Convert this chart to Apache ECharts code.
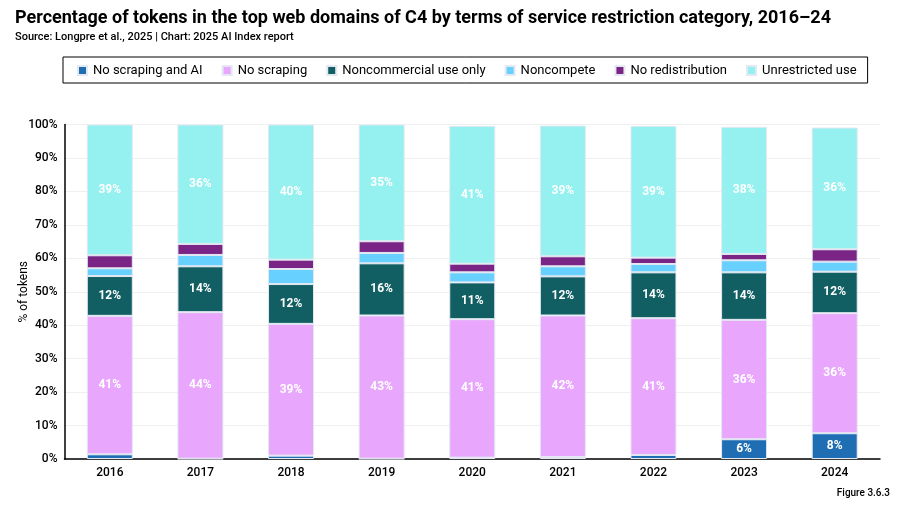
<!DOCTYPE html>
<html>
<head>
<meta charset="utf-8">
<script src="https://cdn.jsdelivr.net/npm/echarts@6/dist/echarts.min.js"></script>
<style>html,body{margin:0;padding:0;background:#fff;}#c{width:902px;height:509px;}</style>
</head>
<body>
<div id="c"></div>
<script>
const years = ['2016','2017','2018','2019','2020','2021','2022','2023','2024'];
const noScrapingAI   = [1.4, 0.1, 1.0, 0.1, 0.4, 0.6, 1.2, 5.9, 7.7];
const noScraping     = [41.4, 43.8, 39.4, 42.8, 41.4, 42.3, 40.9, 35.7, 35.9];
const noncommercial  = [11.9, 13.7, 11.9, 15.6, 11.0, 11.7, 13.7, 14.2, 12.4];
const noncompete     = [2.3, 3.4, 4.5, 3.1, 3.0, 3.0, 2.5, 3.6, 3.0];
const noRedistrib    = [3.9, 3.3, 2.8, 3.5, 2.6, 3.0, 1.9, 1.9, 3.7];
const unrestricted   = [39.1, 35.7, 40.4, 34.9, 41.2, 39.1, 39.4, 38.0, 36.4];
const yTicks = [0,10,20,30,40,50,60,70,80,90,100];

const FONT = 'Roboto';
const seriesDefs = [
  ['No scraping and AI', noScrapingAI, '#1f6db3', 5],
  ['No scraping', noScraping, '#e8a7fc', 5],
  ['Noncommercial use only', noncommercial, '#125f63', 5],
  ['Noncompete', noncompete, '#68d0fe', 999],
  ['No redistribution', noRedistrib, '#7a2586', 999],
  ['Unrestricted use', unrestricted, '#94f1f0', 5]
];

const chart = echarts.init(document.getElementById('c'), null, {renderer:'canvas'});
chart.setOption({
  animation:false,
  textStyle:{fontFamily:FONT},
  title:[
    {text:'Percentage of tokens in the top web domains of C4 by terms of service restriction category, 2016–24',
     left:15, top:9, padding:0, textStyle:{fontFamily:FONT, fontSize:18, fontWeight:'bold', color:'#000'}},
    {text:'Source: Longpre et al., 2025 | Chart: 2025 AI Index report',
     left:15, top:32, padding:0, textStyle:{fontFamily:FONT, fontSize:11, fontWeight:500, color:'#000'}},
    {text:'Figure 3.6.3', right:12, top:488, padding:0, textStyle:{fontFamily:FONT, fontSize:10, fontWeight:500, color:'#000'}}
  ],
  legend:{
    top:57, left:63,
    itemWidth:9, itemHeight:9, itemGap:19,
    icon:'rect',
    borderColor:'#000', borderWidth:1, padding:[7,11,6,14],
    textStyle:{fontFamily:FONT, fontSize:13, color:'#000', padding:[0,0,0,1]},
    data:seriesDefs.map(s=>s[0])
  },
  grid:{left:64.5, right:22, top:124.5, bottom:50, containLabel:false, outerBoundsMode:'none'},
  xAxis:{
    type:'category', data:years,
    axisLine:{lineStyle:{color:'#000', width:1.5}},
    axisTick:{show:false},
    axisLabel:{color:'#000', fontSize:12, fontWeight:500, margin:8, fontFamily:FONT}
  },
  yAxis:{
    type:'value', min:0, max:100, interval:10,
    name:'% of tokens', nameLocation:'middle', nameGap:35, nameRotate:90, nameMoveOverlap:false,
    nameTextStyle:{color:'#000', fontSize:12, fontFamily:FONT},
    axisLine:{show:true, lineStyle:{color:'#000', width:1.5}},
    axisTick:{show:false},
    axisLabel:{color:'#000', fontSize:12, fontWeight:500, margin:7, formatter:v=>v+'%', fontFamily:FONT},
    splitLine:{lineStyle:{color:'#f0f0f0'}}
  },
  series:seriesDefs.map(([name,data,color,minLbl])=>({
    name, type:'bar', stack:'all', data, barWidth:46,
    itemStyle:{color, borderColor:'#e3e8f2', borderWidth:1},
    label:{show:true, position:'inside', color:'#fff', fontSize:12, fontWeight:'bold', fontFamily:FONT,
      formatter:p=> p.value>=minLbl ? Math.round(p.value)+'%' : ''}
  }))
});
</script>
</body>
</html>
